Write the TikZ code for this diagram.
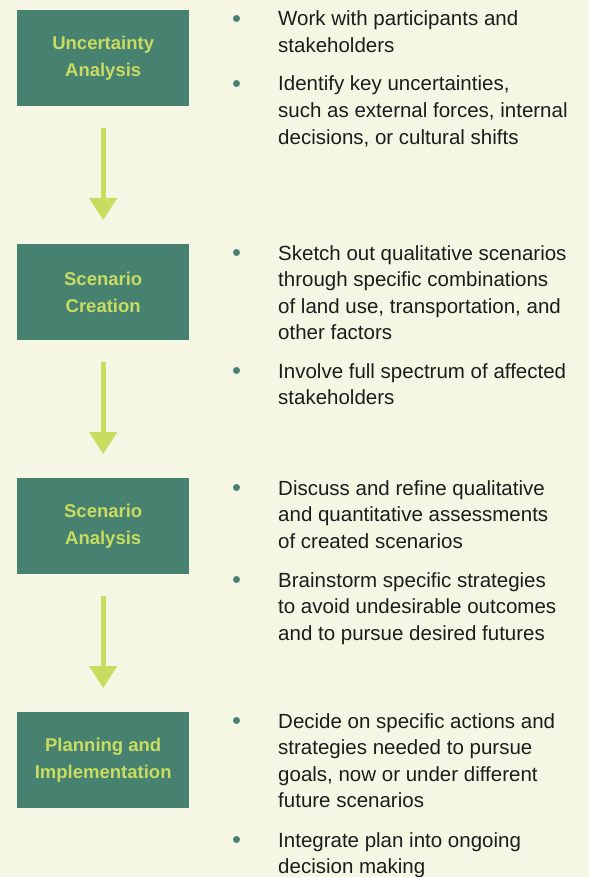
\documentclass[tikz,border=0pt]{standalone}
\usepackage{fontspec}
\setmainfont{Liberation Sans}
\usetikzlibrary{arrows.meta}
\definecolor{pagebg}{HTML}{F5F7E4}
\definecolor{stagefill}{HTML}{478270}
\definecolor{lime}{HTML}{C9DC60}
\definecolor{ink}{HTML}{1C1C1C}

\newcommand{\itemtext}[1]{\parbox[t]{320pt}{\raggedright #1}}

\begin{document}
\begin{tikzpicture}[x=1pt,y=-1pt,
  stage/.style={fill=stagefill, minimum width=172pt, minimum height=96pt,
    inner sep=0pt, text=lime, align=center, anchor=north west,
    font=\fontsize{18.5}{27}\selectfont\bfseries},
  flow/.style={draw=lime, line width=5pt,
    -{Triangle[width=27pt,length=22pt]}, shorten <=22pt, shorten >=24pt},
  item/.style={anchor=base west, inner sep=0pt, text=ink,
    font=\fontsize{20.5}{26.6}\selectfont},
  bullet/.style={circle, fill=stagefill, minimum size=7pt, inner sep=0pt}]

  % page background
  \fill[pagebg] (0,0) rectangle (589,877);
  \useasboundingbox (0,0) rectangle (589,877);

  % stages
  \node[stage] (s1) at (17,10)  {Uncertainty\\Analysis};
  \node[stage] (s2) at (17,244) {Scenario\\Creation};
  \node[stage] (s3) at (17,478) {Scenario\\Analysis};
  \node[stage] (s4) at (17,712) {Planning and\\Implementation};

  % flow arrows
  \draw[flow] (s1.south) -- (s2.north);
  \draw[flow] (s2.south) -- (s3.north);
  \draw[flow] (s3.south) -- (s4.north);

  % stage 1 notes
  \node[bullet] (b1a) at (236.5,18.5) {};
  \node[item] (t1a) at (278,26) {\itemtext{Work with participants and\\stakeholders}};
  \node[bullet] (b1b) at (236.5,83.5) {};
  \node[item] (t1b) at (278,91) {\itemtext{Identify key uncertainties,\\such as external forces, internal\\decisions, or cultural shifts}};

  % stage 2 notes
  \node[bullet] (b2a) at (236.5,252.5) {};
  \node[item] (t2a) at (278,260) {\itemtext{Sketch out qualitative scenarios\\through specific combinations\\of land use, transportation, and\\other factors}};
  \node[bullet] (b2b) at (236.5,370.5) {};
  \node[item] (t2b) at (278,378) {\itemtext{Involve full spectrum of affected\\stakeholders}};

  % stage 3 notes
  \node[bullet] (b3a) at (236.5,487.5) {};
  \node[item] (t3a) at (278,495) {\itemtext{Discuss and refine qualitative\\and quantitative assessments\\of created scenarios}};
  \node[bullet] (b3b) at (236.5,579.5) {};
  \node[item] (t3b) at (278,587) {\itemtext{Brainstorm specific strategies\\to avoid undesirable outcomes\\and to pursue desired futures}};

  % stage 4 notes
  \node[bullet] (b4a) at (236.5,720.5) {};
  \node[item] (t4a) at (278,728) {\itemtext{Decide on specific actions and\\strategies needed to pursue\\goals, now or under different\\future scenarios}};
  \node[bullet] (b4b) at (236.5,839.5) {};
  \node[item] (t4b) at (278,847) {\itemtext{Integrate plan into ongoing\\decision making}};
\end{tikzpicture}
\end{document}
